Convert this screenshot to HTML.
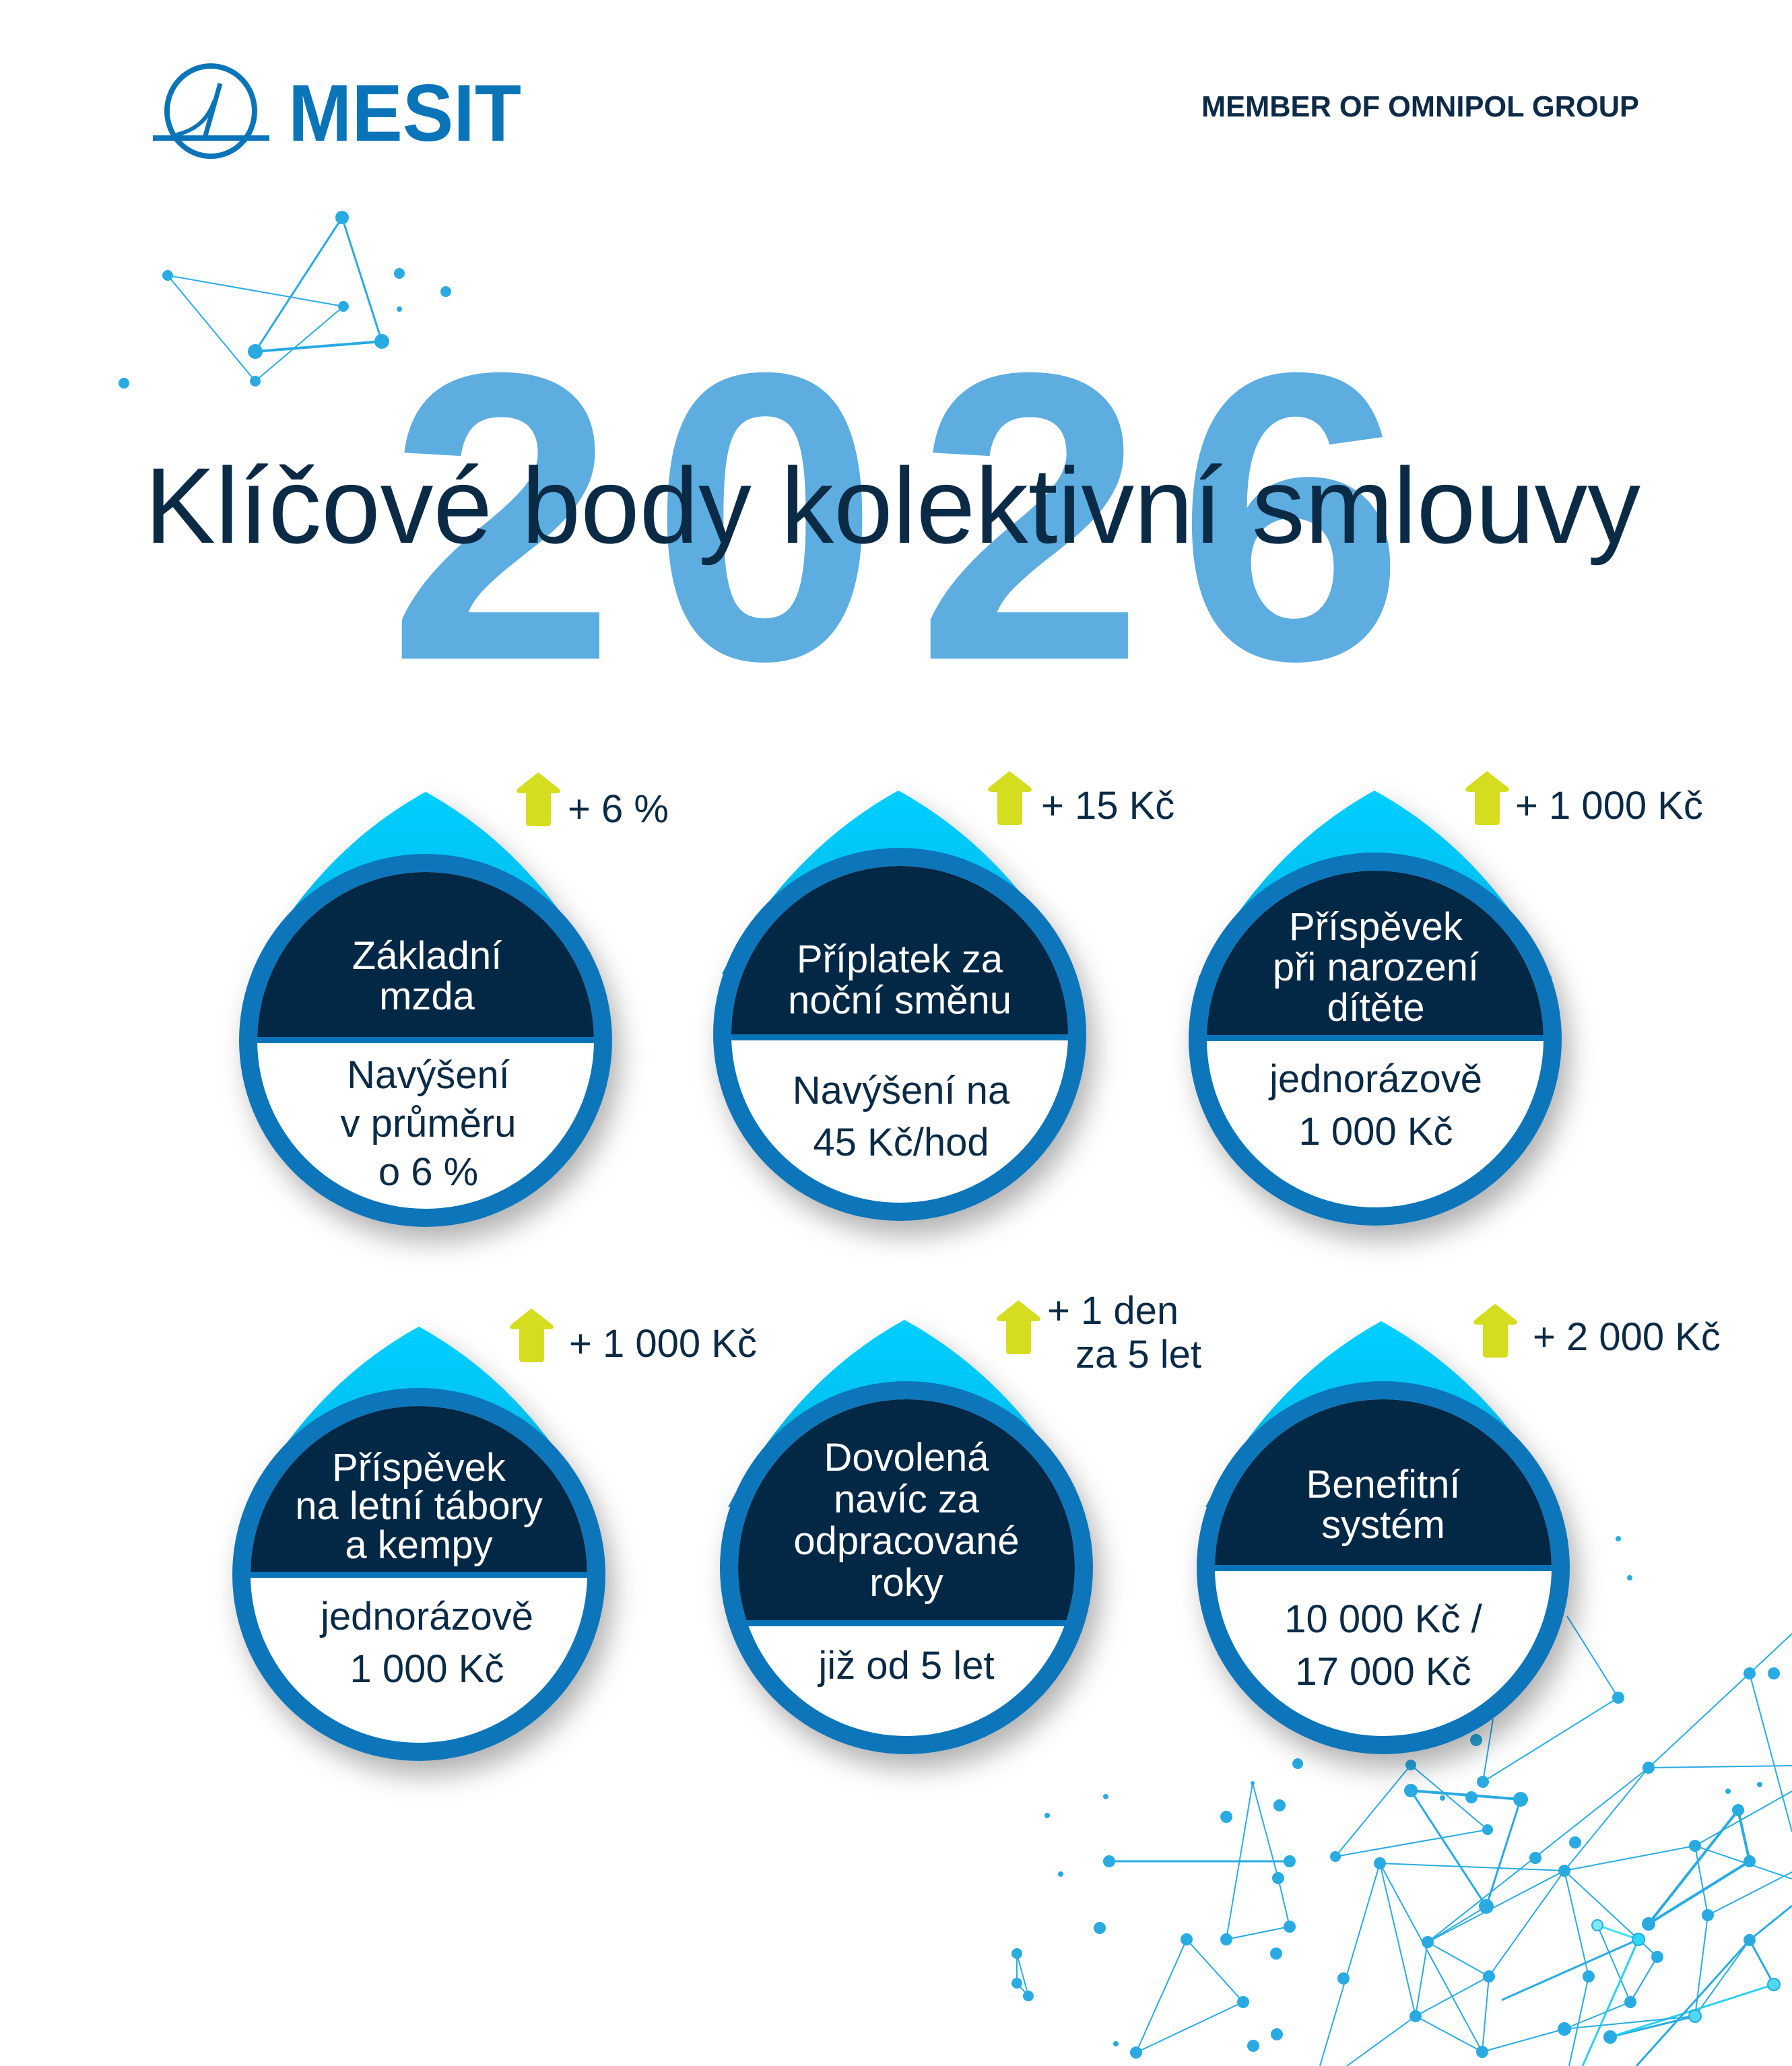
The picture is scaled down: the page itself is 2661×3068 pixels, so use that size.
<!DOCTYPE html>
<html><head><meta charset="utf-8"><style>
html,body{margin:0;padding:0;background:#fff;}
svg{display:block;}
text{font-family:"Liberation Sans",sans-serif;}
</style></head><body>
<svg width="2661" height="3068" viewBox="0 0 2661 3068" xmlns="http://www.w3.org/2000/svg">
<defs>
<linearGradient id="tip" x1="0" y1="0" x2="0" y2="1">
<stop offset="0" stop-color="#00cfff"/><stop offset="0.45" stop-color="#00c4f5"/><stop offset="1" stop-color="#0a86b8"/>
</linearGradient>
<filter id="sh" x="-30%" y="-30%" width="160%" height="160%">
<feDropShadow dx="12" dy="22" stdDeviation="20" flood-color="#000" flood-opacity="0.3"/>
</filter>
<path id="arr" d="M32,0 L63,24 Q68,30 60,31 L51,31 L51,75 Q51,80 46,80 L19,80 Q14,80 14,75 L14,31 L5,31 Q-3,30 2,24 Z" fill="#d5dd1f"/>
</defs>

<!-- logo -->
<g fill="none" stroke="#0a74b9">
<ellipse cx="313" cy="165" rx="65" ry="67" stroke-width="8"/>
<line x1="227" y1="205" x2="400" y2="205" stroke-width="8"/>
<line x1="327" y1="124" x2="304" y2="205" stroke-width="7"/>
<path d="M262,200 Q305,190 318,150" stroke-width="6"/>
</g>
<text x="428" y="209" font-size="120" font-weight="bold" fill="#0a74b9" textLength="346" lengthAdjust="spacingAndGlyphs">MESIT</text>
<text x="1784" y="173" font-size="44" font-weight="bold" fill="#0d2a47" textLength="650" lengthAdjust="spacingAndGlyphs">MEMBER OF OMNIPOL GROUP</text>

<!-- top-left network -->
<g stroke="#29abe2" stroke-width="2" fill="#29abe2">
<line x1="508" y1="323" x2="379" y2="522" stroke-width="3"/>
<line x1="508" y1="323" x2="567" y2="507" stroke-width="3"/>
<line x1="379" y1="522" x2="567" y2="507" stroke-width="4"/>
<line x1="249" y1="409" x2="510" y2="455"/>
<line x1="249" y1="409" x2="379" y2="566"/>
<line x1="379" y1="566" x2="510" y2="455"/>
<circle cx="508" cy="323" r="9"/><circle cx="249" cy="409" r="7"/><circle cx="510" cy="455" r="7"/>
<circle cx="379" cy="522" r="10"/><circle cx="567" cy="507" r="10"/><circle cx="379" cy="566" r="7"/>
<circle cx="593" cy="406" r="7"/><circle cx="662" cy="433" r="7"/><circle cx="184" cy="569" r="7"/><circle cx="593" cy="459" r="3"/>
</g>

<!-- 2026 -->
<g font-size="609" font-weight="bold" fill="#5dade0" text-anchor="middle">
<text x="745" y="978">2</text><text x="1136" y="978">0</text><text x="1530" y="978">2</text><text x="1917" y="978">6</text>
</g>
<text x="215" y="806" font-size="160" fill="#0b2a45" textLength="2221" lengthAdjust="spacingAndGlyphs">Klíčové body kolektivní smlouvy</text>

<!-- bottom-right network -->
<g stroke="#29abe2" stroke-width="2" fill="#29abe2">
<line x1="2403" y1="2521" x2="2202" y2="2646"/><line x1="2403" y1="2521" x2="2327" y2="2400"/><line x1="2202" y1="2646" x2="2217" y2="2553"/>
<line x1="2095" y1="2621" x2="1983" y2="2757"/><line x1="2095" y1="2621" x2="2209" y2="2717"/><line x1="1983" y1="2757" x2="2209" y2="2717"/>
<line x1="2095" y1="2659" x2="2258" y2="2672" stroke-width="4"/><line x1="2095" y1="2659" x2="2207" y2="2831" stroke-width="3"/><line x1="2258" y1="2672" x2="2207" y2="2831" stroke-width="3"/>
<line x1="2049" y1="2767" x2="2323" y2="2778"/><line x1="2323" y1="2778" x2="2448" y2="2625"/><line x1="2448" y1="2625" x2="2598" y2="2485"/>
<line x1="2598" y1="2485" x2="2661" y2="2720"/><line x1="2448" y1="2625" x2="2661" y2="2622"/><line x1="2598" y1="2485" x2="2661" y2="2426"/>
<line x1="2120" y1="2884" x2="2448" y2="2625"/><line x1="2120" y1="2884" x2="2323" y2="2778"/><line x1="2207" y1="2831" x2="2120" y2="2884"/>
<line x1="2323" y1="2778" x2="2517" y2="2741"/><line x1="2517" y1="2741" x2="2661" y2="2790"/><line x1="2517" y1="2741" x2="2661" y2="2660"/>
<line x1="2581" y1="2688" x2="2448" y2="2857" stroke-width="4"/><line x1="2581" y1="2688" x2="2598" y2="2764" stroke-width="4"/><line x1="2598" y1="2764" x2="2448" y2="2857" stroke-width="4"/>
<line x1="2517" y1="2741" x2="2536" y2="2844"/><line x1="2536" y1="2844" x2="2517" y2="2994"/><line x1="2536" y1="2844" x2="2661" y2="2780"/>
<line x1="2323" y1="2778" x2="2461" y2="2906"/><line x1="2323" y1="2778" x2="2359" y2="2935"/><line x1="2323" y1="2778" x2="2211" y2="2935"/>
<line x1="2049" y1="2767" x2="2102" y2="2994"/><line x1="2049" y1="2767" x2="2201" y2="3047"/><line x1="2049" y1="2767" x2="1960" y2="3068"/>
<line x1="2120" y1="2884" x2="2211" y2="2935"/><line x1="2211" y1="2935" x2="2102" y2="2994"/><line x1="2102" y1="2994" x2="2201" y2="3047"/>
<line x1="2211" y1="2935" x2="2201" y2="3047"/><line x1="2201" y1="3047" x2="2323" y2="3013"/><line x1="2323" y1="3013" x2="2421" y2="2973"/>
<line x1="2421" y1="2973" x2="2372" y2="2859"/><line x1="2421" y1="2973" x2="2461" y2="2906"/><line x1="2372" y1="2859" x2="2433" y2="2880" stroke="#3de0f5" stroke-width="3"/>
<line x1="2433" y1="2880" x2="2230" y2="2970" stroke-width="3"/><line x1="2433" y1="2880" x2="2350" y2="3068" stroke="#2ad0f0" stroke-width="3"/>
<line x1="2598" y1="2881" x2="2634" y2="2947" stroke-width="3"/><line x1="2598" y1="2881" x2="2517" y2="2994"/><line x1="2517" y1="2994" x2="2391" y2="3025" stroke-width="3"/>
<line x1="2634" y1="2947" x2="2391" y2="3025" stroke-width="3" stroke="#2ad0f0"/><line x1="2598" y1="2881" x2="2661" y2="2830" stroke-width="3"/>
<line x1="2598" y1="2881" x2="2430" y2="3068" stroke-width="3"/><line x1="2323" y1="3013" x2="2517" y2="2994"/><line x1="2461" y1="2906" x2="2421" y2="2973"/>
<line x1="2102" y1="2994" x2="2000" y2="3068"/><line x1="2359" y1="2935" x2="2330" y2="3068"/><line x1="2102" y1="2994" x2="2120" y2="2884"/>
<line x1="1647" y1="2764" x2="1915" y2="2764" stroke-width="3"/><line x1="1860" y1="2648" x2="1821" y2="2880"/><line x1="1860" y1="2648" x2="1898" y2="2789"/>
<line x1="1898" y1="2789" x2="1915" y2="2861"/><line x1="1915" y1="2861" x2="1821" y2="2880"/><line x1="1762" y1="2880" x2="1687" y2="3048"/>
<line x1="1762" y1="2880" x2="1846" y2="2973"/><line x1="1846" y1="2973" x2="1687" y2="3048"/>
<line x1="1510" y1="2901" x2="1510" y2="2945"/><line x1="1510" y1="2945" x2="1527" y2="2964"/><line x1="1510" y1="2901" x2="1527" y2="2964"/>
<g>
<circle cx="2403" cy="2521" r="8"/><circle cx="2202" cy="2646" r="8"/><circle cx="2095" cy="2621" r="7"/><circle cx="1983" cy="2757" r="7"/>
<circle cx="2209" cy="2717" r="7"/><circle cx="2095" cy="2659" r="9"/><circle cx="2185" cy="2669" r="8"/><circle cx="2258" cy="2672" r="10"/>
<circle cx="2207" cy="2831" r="10"/><circle cx="2049" cy="2767" r="8"/><circle cx="2323" cy="2778" r="8"/><circle cx="2120" cy="2884" r="8"/>
<circle cx="2448" cy="2625" r="8"/><circle cx="2598" cy="2485" r="8"/><circle cx="2517" cy="2741" r="8"/><circle cx="2598" cy="2764" r="8"/>
<circle cx="2581" cy="2688" r="8"/><circle cx="2448" cy="2857" r="9"/><circle cx="2536" cy="2844" r="8"/><circle cx="2461" cy="2906" r="8"/>
<circle cx="2433" cy="2880" r="9" fill="#2ad8f5"/><circle cx="2372" cy="2859" r="8" fill="#7ce8f8"/><circle cx="2359" cy="2935" r="8"/><circle cx="2211" cy="2935" r="8"/>
<circle cx="2102" cy="2994" r="8"/><circle cx="2201" cy="3047" r="8"/><circle cx="2323" cy="3013" r="9"/><circle cx="2421" cy="2973" r="8"/>
<circle cx="2517" cy="2994" r="9" fill="#50d8f5"/><circle cx="2598" cy="2881" r="8"/><circle cx="2634" cy="2947" r="9" fill="#50d8f5"/><circle cx="2391" cy="3025" r="9"/>
<circle cx="1647" cy="2764" r="8"/><circle cx="1915" cy="2764" r="8"/><circle cx="1860" cy="2648" r="2"/><circle cx="1915" cy="2861" r="8"/>
<circle cx="1821" cy="2880" r="8"/><circle cx="1762" cy="2880" r="8"/><circle cx="1846" cy="2973" r="8"/><circle cx="1687" cy="3048" r="8"/>
<circle cx="1898" cy="2789" r="8"/><circle cx="1510" cy="2901" r="7"/><circle cx="1510" cy="2945" r="7"/><circle cx="1527" cy="2964" r="7"/>
<circle cx="1927" cy="2619" r="7"/><circle cx="1900" cy="2681" r="8"/><circle cx="1821" cy="2698" r="8"/><circle cx="1633" cy="2863" r="8"/>
<circle cx="1895" cy="2901" r="8"/><circle cx="1995" cy="2938" r="8"/><circle cx="1896" cy="3021" r="8"/><circle cx="1861" cy="3038" r="8"/>
<circle cx="2192" cy="2584" r="8"/><circle cx="2339" cy="2736" r="8"/><circle cx="2280" cy="2759" r="8"/><circle cx="2634" cy="2485" r="8"/>
<circle cx="2403" cy="2285" r="3"/><circle cx="2420" cy="2343" r="3"/><circle cx="2566" cy="2660" r="3"/><circle cx="2613" cy="2650" r="3"/>
<circle cx="2142" cy="2670" r="3"/><circle cx="1642" cy="2668" r="3"/><circle cx="1555" cy="2696" r="3"/><circle cx="1575" cy="2783" r="3"/><circle cx="1657" cy="3035" r="3"/>
</g>
</g>

<!-- DROPS -->
<!-- drop template: cx, cy, tipY -->
<g id="drops">
<!-- d1 -->
<g filter="url(#sh)">
<path d="M632,1176 C552,1220 450,1300 370,1455 L894,1455 C814,1300 712,1220 632,1176 Z" fill="url(#tip)"/>
<circle cx="632" cy="1545" r="277" fill="#0a74b9"/>
</g>
<clipPath id="c1"><circle cx="632" cy="1545" r="250"/></clipPath>
<g clip-path="url(#c1)"><rect x="380" y="1290" width="510" height="510" fill="#fff"/><rect x="380" y="1290" width="510" height="250" fill="#022846"/><rect x="380" y="1540" width="510" height="9" fill="#0a74b9"/></g>

<g filter="url(#sh)">
<path d="M1334,1174 C1254,1218 1152,1298 1072,1446 L1596,1446 C1516,1298 1414,1218 1334,1174 Z" fill="url(#tip)"/>
<circle cx="1336" cy="1536" r="277" fill="#0a74b9"/>
</g>
<clipPath id="c2"><circle cx="1336" cy="1536" r="250"/></clipPath>
<g clip-path="url(#c2)"><rect x="1080" y="1280" width="512" height="512" fill="#fff"/><rect x="1080" y="1280" width="512" height="256" fill="#022846"/><rect x="1080" y="1536" width="512" height="9" fill="#0a74b9"/></g>

<g filter="url(#sh)">
<path d="M2041,1174 C1961,1218 1859,1298 1779,1453 L2305,1453 C2225,1298 2121,1218 2041,1174 Z" fill="url(#tip)"/>
<circle cx="2042" cy="1543" r="277" fill="#0a74b9"/>
</g>
<clipPath id="c3"><circle cx="2042" cy="1543" r="250"/></clipPath>
<g clip-path="url(#c3)"><rect x="1790" y="1290" width="510" height="510" fill="#fff"/><rect x="1790" y="1290" width="510" height="247" fill="#022846"/><rect x="1790" y="1537" width="510" height="9" fill="#0a74b9"/></g>

<g filter="url(#sh)">
<path d="M622,1970 C542,2014 440,2094 360,2248 L884,2248 C804,2094 702,2014 622,1970 Z" fill="url(#tip)"/>
<circle cx="622" cy="2338" r="277" fill="#0a74b9"/>
</g>
<clipPath id="c4"><circle cx="622" cy="2338" r="250"/></clipPath>
<g clip-path="url(#c4)"><rect x="370" y="2080" width="510" height="510" fill="#fff"/><rect x="370" y="2080" width="510" height="254" fill="#022846"/><rect x="370" y="2334" width="510" height="9" fill="#0a74b9"/></g>

<g filter="url(#sh)">
<path d="M1343,1960 C1263,2004 1161,2084 1081,2238 L1608,2238 C1528,2084 1423,2004 1343,1960 Z" fill="url(#tip)"/>
<circle cx="1346" cy="2328" r="277" fill="#0a74b9"/>
</g>
<clipPath id="c5"><circle cx="1346" cy="2328" r="250"/></clipPath>
<g clip-path="url(#c5)"><rect x="1090" y="2070" width="512" height="512" fill="#fff"/><rect x="1090" y="2070" width="512" height="336" fill="#022846"/><rect x="1090" y="2406" width="512" height="9" fill="#0a74b9"/></g>

<g filter="url(#sh)">
<path d="M2051,1962 C1971,2006 1869,2086 1790,2238 L2316,2238 C2236,2086 2131,2006 2051,1962 Z" fill="url(#tip)"/>
<circle cx="2054" cy="2328" r="277" fill="#0a74b9"/>
</g>
<clipPath id="c6"><circle cx="2054" cy="2328" r="250"/></clipPath>
<g clip-path="url(#c6)"><rect x="1800" y="2070" width="512" height="512" fill="#fff"/><rect x="1800" y="2070" width="512" height="254" fill="#022846"/><rect x="1800" y="2324" width="512" height="9" fill="#0a74b9"/></g>
</g>

<!-- drop texts -->
<g font-size="58" text-anchor="middle" fill="#fff">
<text x="634" y="1439">Základní</text><text x="634" y="1499">mzda</text>
<text x="1336" y="1444">Příplatek za</text><text x="1336" y="1505">noční směnu</text>
<text x="2043" y="1396">Příspěvek</text><text x="2043" y="1456">při narození</text><text x="2043" y="1516">dítěte</text>
<text x="622" y="2199">Příspěvek</text><text x="622" y="2256">na letní tábory</text><text x="622" y="2314">a kempy</text>
<text x="1346" y="2184">Dovolená</text><text x="1346" y="2246">navíc za</text><text x="1346" y="2308">odpracované</text><text x="1346" y="2370">roky</text>
<text x="2054" y="2224">Benefitní</text><text x="2054" y="2284">systém</text>
</g>
<g font-size="58" text-anchor="middle" fill="#0b2a45">
<text x="636" y="1616">Navýšení</text><text x="636" y="1688">v průměru</text><text x="636" y="1760">o 6 %</text>
<text x="1338" y="1639">Navýšení na</text><text x="1338" y="1716">45 Kč/hod</text>
<text x="2043" y="1622">jednorázově</text><text x="2043" y="1700">1 000 Kč</text>
<text x="634" y="2420">jednorázově</text><text x="634" y="2498">1 000 Kč</text>
<text x="1346" y="2493">již od 5 let</text>
<text x="2054" y="2424">10 000 Kč /</text><text x="2054" y="2502">17 000 Kč</text>
</g>

<!-- arrows & labels -->
<use href="#arr" x="767" y="1147"/>
<use href="#arr" x="1467" y="1145"/>
<use href="#arr" x="2176" y="1145"/>
<use href="#arr" x="757" y="1943"/>
<use href="#arr" x="1480" y="1931"/>
<use href="#arr" x="2188" y="1936"/>
<g font-size="58" fill="#0b2a45">
<text x="843" y="1221">+ 6 %</text>
<text x="1546" y="1216">+ 15 Kč</text>
<text x="2250" y="1216">+ 1 000 Kč</text>
<text x="845" y="2015">+ 1 000 Kč</text>
<text x="1555" y="1966">+ 1 den</text>
<text x="1597" y="2031">za 5 let</text>
<text x="2276" y="2005">+ 2 000 Kč</text>
</g>
</svg>
</body></html>
